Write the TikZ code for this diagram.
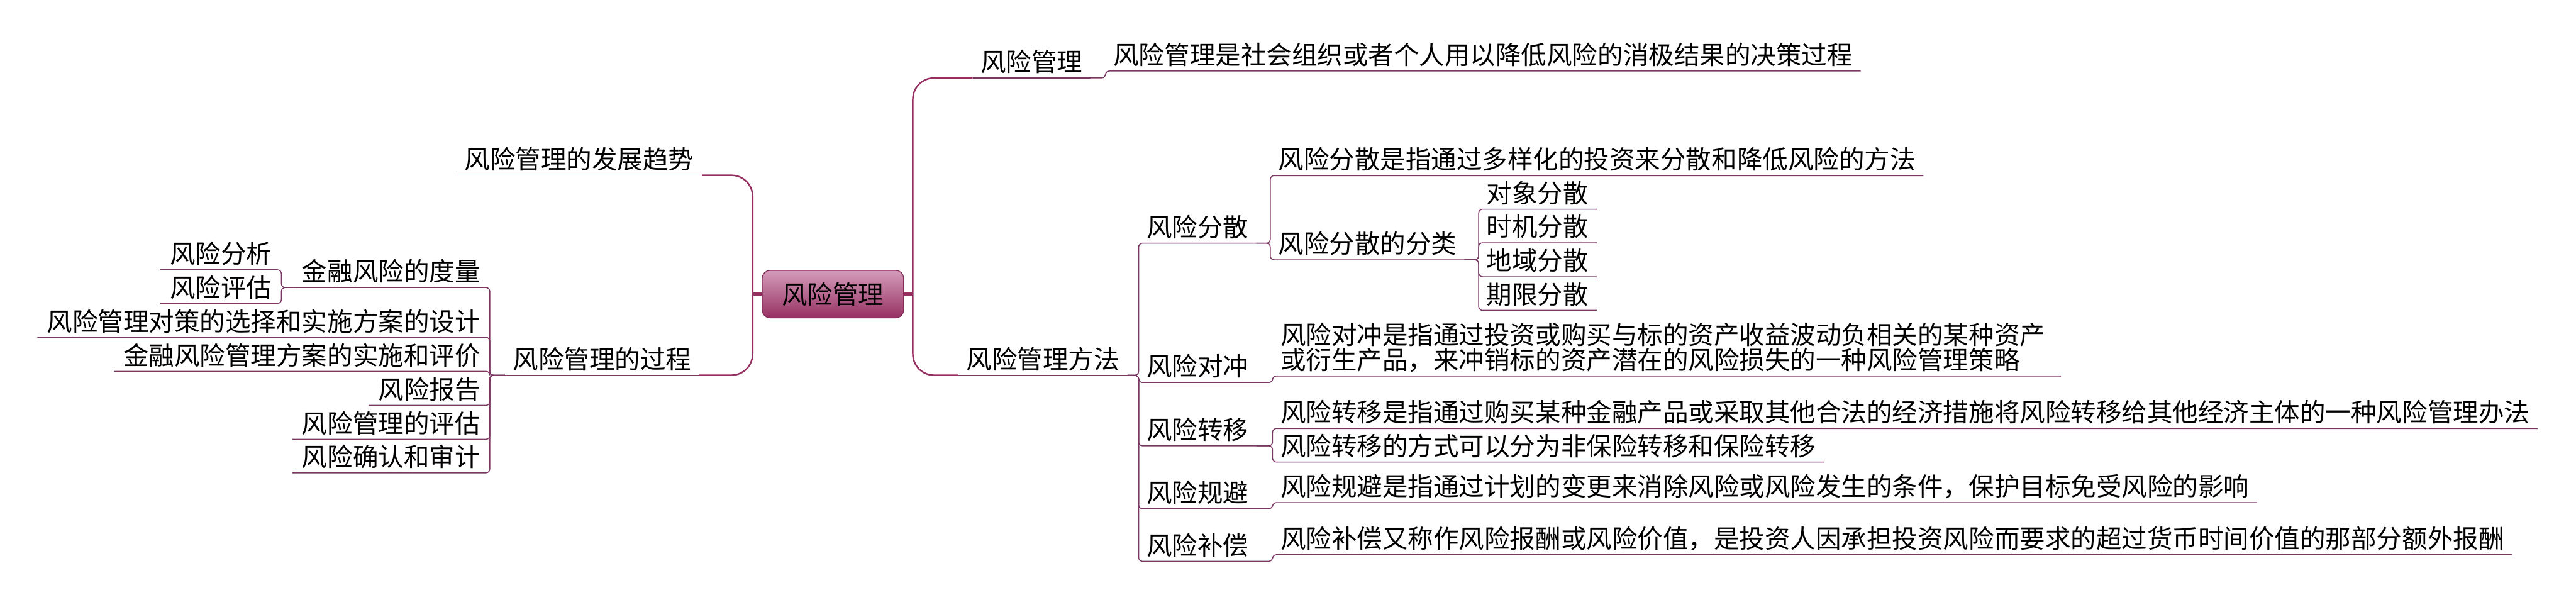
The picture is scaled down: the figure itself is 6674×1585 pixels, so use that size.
\documentclass[tikz,border=0pt]{standalone}
\usepackage{fontspec}
\setmainfont{Noto Sans CJK SC}
\usetikzlibrary{calc}
\definecolor{rootlight}{RGB}{212,156,186}
\definecolor{rootdark}{RGB}{151,49,99}
\definecolor{rootedge}{RGB}{135,45,90}
\definecolor{branch}{RGB}{150,48,96}
\definecolor{uline}{RGB}{122,56,98}
\newcommand\mmfont{\fontsize{0.66cm}{0.65cm}\selectfont}
\begin{document}
\begin{tikzpicture}[x=0.01cm,y=-0.01cm,
  base/.style={font=\mmfont, inner ysep=0pt, text depth=0.16cm, text height=0.55cm},
  rnode/.style={base, inner xsep=0.2cm, anchor=south west},
  lnode/.style={base, inner xsep=0.24cm, anchor=south east},
  conn/.style={draw=uline, line width=0.025cm, rounded corners=0.1cm},
  lone/.style={draw=branch, line width=0.04cm, rounded corners=0.55cm},
  ul/.style={draw=uline, line width=0.025cm},
  stub/.style={draw=branch, line width=0.08cm},
  rootbox/.style={draw=rootedge, line width=0.02cm, rounded corners=0.2cm,
    top color=rootlight, middle color=rootdark, bottom color=rootdark,
    minimum width=3.66cm, minimum height=1.23cm, inner sep=0pt, font=\mmfont}]
\useasboundingbox (0,0) rectangle (6674,1585);

% root
\node[rootbox] (root) at (2158,762) {风险管理};
\coordinate (rt) at (2365,762);
\coordinate (lt) at (1950,762);

% level 1
\node[rnode] (A) at (2520,202) {风险管理};
\node[rnode] (B) at (2483,972) {风险管理方法};
\node[rnode] (C) at (1183,454) {风险管理的发展趋势};
\node[rnode] (D) at (1308,972) {风险管理的过程};

% right side, under A
\node[rnode] (A1) at (2864,184) {风险管理是社会组织或者个人用以降低风险的消极结果的决策过程};

% right side, under B
\node[rnode] (B1) at (2950,630) {风险分散};
\node[rnode] (B11) at (3291,455) {风险分散是指通过多样化的投资来分散和降低风险的方法};
\node[rnode] (B12) at (3291,673) {风险分散的分类};
\node[rnode] (B121) at (3831,542) {对象分散};
\node[rnode] (B122) at (3831,629) {时机分散};
\node[rnode] (B123) at (3831,717) {地域分散};
\node[rnode] (B124) at (3831,804) {期限分散};
\node[rnode] (B2) at (2950,991) {风险对冲};
\node[rnode, text width=20cm, align=left, text depth=0.81cm] (B21) at (3297,974)
  {风险对冲是指通过投资或购买与标的资产收益波动负相关的某种资产\\或衍生产品，来冲销标的资产潜在的风险损失的一种风险管理策略};
\node[rnode] (B3) at (2950,1155) {风险转移};
\node[rnode] (B31) at (3297,1110) {风险转移是指通过购买某种金融产品或采取其他合法的经济措施将风险转移给其他经济主体的一种风险管理办法};
\node[rnode] (B32) at (3297,1197) {风险转移的方式可以分为非保险转移和保险转移};
\node[rnode] (B4) at (2950,1318) {风险规避};
\node[rnode] (B41) at (3297,1302) {风险规避是指通过计划的变更来消除风险或风险发生的条件，保护目标免受风险的影响};
\node[rnode] (B5) at (2950,1454) {风险补偿};
\node[rnode] (B51) at (3297,1437) {风险补偿又称作风险报酬或风险价值，是投资人因承担投资风险而要求的超过货币时间价值的那部分额外报酬};

% left side, under D
\node[lnode] (D1) at (1269,745) {金融风险的度量};
\node[lnode] (D11) at (729,699) {风险分析};
\node[lnode] (D12) at (729,786) {风险评估};
\node[lnode] (D2) at (1269,874) {风险管理对策的选择和实施方案的设计};
\node[lnode] (D3) at (1269,962) {金融风险管理方案的实施和评价};
\node[lnode] (D4) at (1269,1050) {风险报告};
\node[lnode] (D5) at (1269,1138) {风险管理的评估};
\node[lnode] (D6) at (1269,1225) {风险确认和审计};

% stubs from root
\draw[stub] (root.east) -- (rt);
\draw[stub] (root.west) -- (lt);

% level-1 branches
\draw[lone] (rt) |- (A.south west);
\draw[lone] (rt) |- (B.south west);
\draw[lone] (lt) |- (C.south east);
\draw[lone] (lt) |- (D.south east);
\draw[ul] (A.south west) -- (A.south east);
\draw[ul] (B.south west) -- (B.south east);
\draw[ul] (C.south east) -- (C.south west);
\draw[ul] (D.south east) -- (D.south west);

% right connectors
\draw[conn] (A.south east) -| (A1.south west) -- (A1.south east);
\foreach \c in {B1,B2,B3,B4,B5}
  \draw[conn] (B.south east) -| (\c.south west) -- (\c.south east);
\foreach \c in {B11,B12}
  \draw[conn] (B1.south east) -| (\c.south west) -- (\c.south east);
\foreach \c in {B121,B122,B123,B124}
  \draw[conn] (B12.south east) -| (\c.south west) -- (\c.south east);
\draw[conn] (B2.south east) -| (B21.south west) -- (B21.south east);
\foreach \c in {B31,B32}
  \draw[conn] (B3.south east) -| (\c.south west) -- (\c.south east);
\draw[conn] (B4.south east) -| (B41.south west) -- (B41.south east);
\draw[conn] (B5.south east) -| (B51.south west) -- (B51.south east);

% left connectors
\foreach \c in {D1,D2,D3,D4,D5,D6}
  \draw[conn] (D.south west) -| (\c.south east) -- (\c.south west);
\foreach \c in {D11,D12}
  \draw[conn] (D1.south west) -| (\c.south east) -- (\c.south west);
\end{tikzpicture}
\end{document}
